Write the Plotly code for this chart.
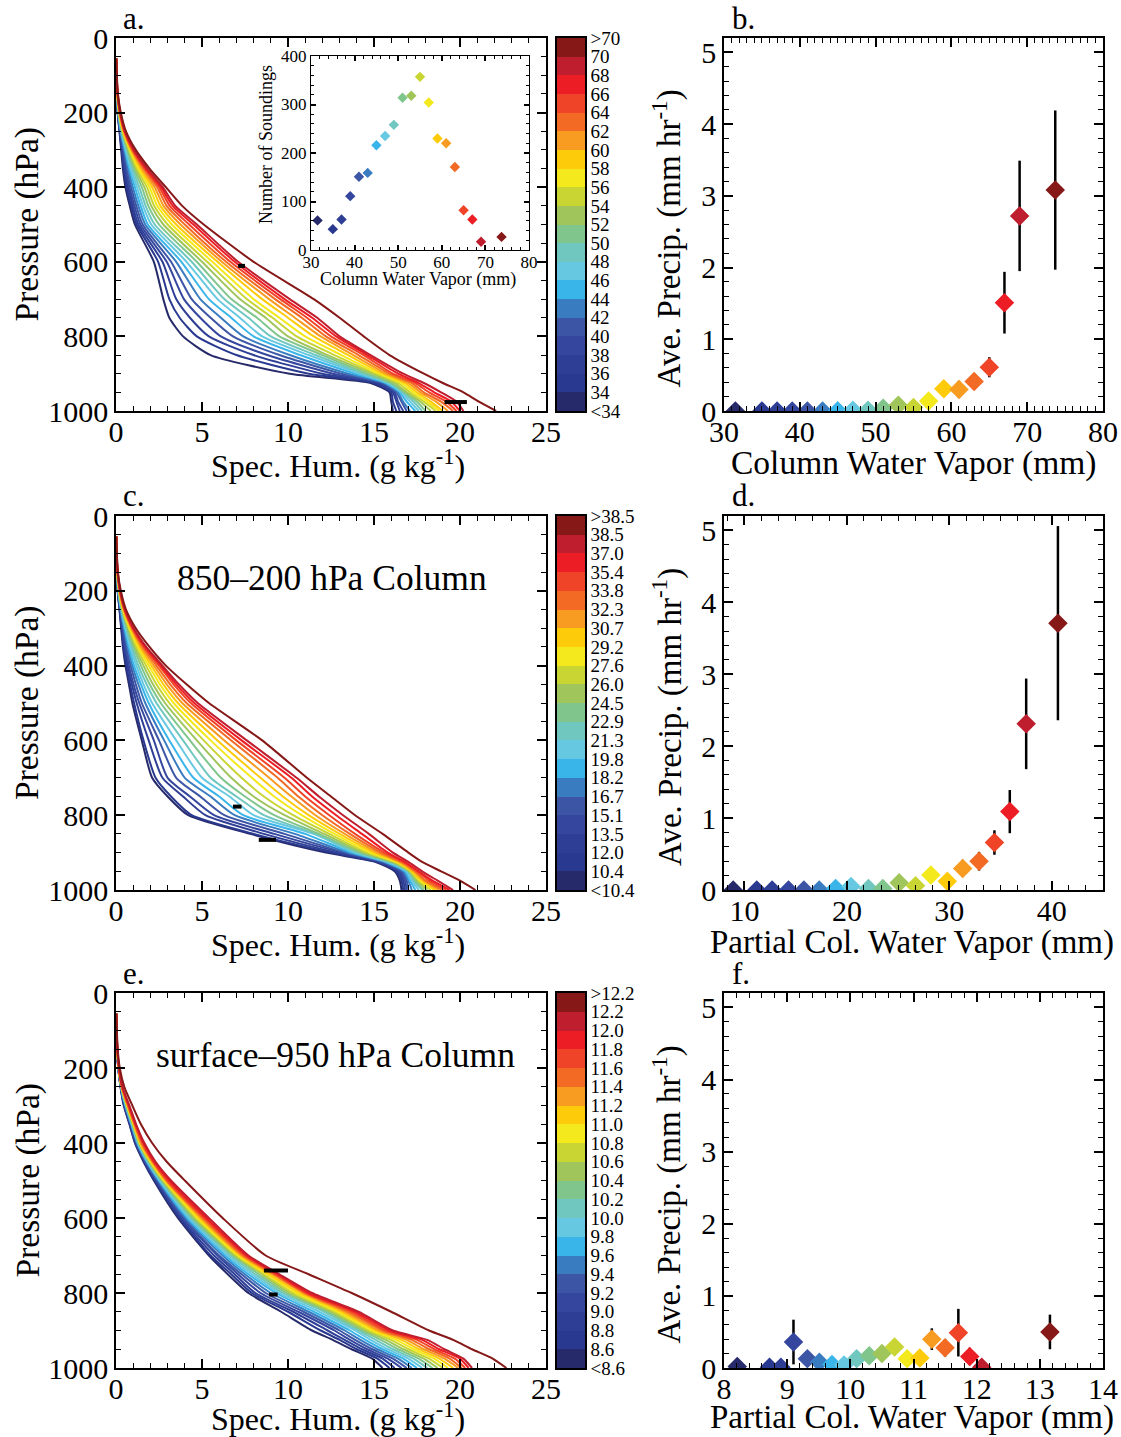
import plotly.graph_objects as go

W, H = 1121, 1437
FONT = "Liberation Serif"

# ---------------- data ----------------
COLORS = ["#272a6a", "#2a3990", "#2e3e95", "#34469e", "#3c55a5", "#3a7cc0",
          "#39b5ea", "#67c8e2", "#6fc7bf", "#80c68c", "#a0c55b", "#c8d533",
          "#f4e91c", "#fecb0b", "#f89b21", "#f26a24", "#ef4427", "#ed1d25",
          "#be1e2d", "#861818"]

CB_A = ["<34", "34", "36", "38", "40", "42", "44", "46", "48", "50", "52", "54",
        "56", "58", "60", "62", "64", "66", "68", "70", ">70"]
CB_C = ["<10.4", "10.4", "12.0", "13.5", "15.1", "16.7", "18.2", "19.8", "21.3",
        "22.9", "24.5", "26.0", "27.6", "29.2", "30.7", "32.3", "33.8", "35.4",
        "37.0", "38.5", ">38.5"]
CB_E = ["<8.6", "8.6", "8.8", "9.0", "9.2", "9.4", "9.6", "9.8", "10.0", "10.2",
        "10.4", "10.6", "10.8", "11.0", "11.2", "11.4", "11.6", "11.8", "12.0",
        "12.2", ">12.2"]

LEVELS = [55, 100, 150, 200, 250, 300, 350, 400, 450, 500, 600, 700, 750, 800,
          850, 900, 925, 950, 975, 1000]

# specific humidity (g/kg) per level (rows) for each bin (columns, dry -> wet)
Q_A = [
    [0.02, 0.02, 0.02, 0.02, 0.02, 0.02, 0.02, 0.02, 0.02, 0.02, 0.02, 0.02, 0.02, 0.02, 0.02, 0.02, 0.02, 0.02, 0.02, 0.02],
    [0.03, 0.03, 0.03, 0.03, 0.03, 0.03, 0.03, 0.03, 0.03, 0.03, 0.04, 0.04, 0.04, 0.04, 0.04, 0.04, 0.04, 0.04, 0.04, 0.05],
    [0.05, 0.05, 0.05, 0.05, 0.05, 0.06, 0.06, 0.06, 0.06, 0.07, 0.07, 0.07, 0.08, 0.08, 0.08, 0.09, 0.09, 0.09, 0.10, 0.11],
    [0.10, 0.10, 0.10, 0.11, 0.12, 0.12, 0.13, 0.14, 0.15, 0.16, 0.17, 0.18, 0.19, 0.20, 0.21, 0.22, 0.23, 0.24, 0.25, 0.28],
    [0.20, 0.21, 0.22, 0.23, 0.25, 0.27, 0.29, 0.31, 0.33, 0.35, 0.37, 0.39, 0.41, 0.43, 0.45, 0.47, 0.49, 0.51, 0.53, 0.58],
    [0.30, 0.33, 0.36, 0.40, 0.44, 0.48, 0.52, 0.57, 0.62, 0.67, 0.72, 0.77, 0.82, 0.86, 0.90, 0.94, 0.98, 1.02, 1.05, 1.15],
    [0.40, 0.45, 0.50, 0.55, 0.62, 0.70, 0.78, 0.86, 0.95, 1.04, 1.13, 1.22, 1.31, 1.40, 1.50, 1.60, 1.68, 1.75, 1.82, 1.95],
    [0.55, 0.62, 0.70, 0.78, 0.88, 0.98, 1.10, 1.22, 1.35, 1.50, 1.65, 1.80, 1.95, 2.10, 2.25, 2.40, 2.52, 2.62, 2.72, 2.90],
    [0.80, 0.88, 0.97, 1.07, 1.18, 1.30, 1.43, 1.57, 1.72, 1.88, 2.05, 2.22, 2.40, 2.58, 2.76, 2.94, 3.12, 3.30, 3.45, 3.85],
    [1.10, 1.20, 1.30, 1.42, 1.55, 1.70, 1.85, 2.05, 2.25, 2.50, 2.75, 3.00, 3.25, 3.50, 3.75, 4.00, 4.25, 4.50, 4.70, 5.10],
    [2.20, 2.45, 2.70, 2.95, 3.20, 3.50, 3.80, 4.10, 4.40, 4.70, 5.00, 5.30, 5.60, 5.90, 6.15, 6.40, 6.65, 6.90, 7.10, 8.00],
    [2.75, 3.10, 3.50, 3.95, 4.40, 4.90, 5.40, 5.90, 6.30, 6.70, 7.20, 7.60, 8.00, 8.50, 8.90, 9.25, 9.55, 9.80, 10.1, 11.5],
    [3.10, 3.70, 4.30, 4.90, 5.50, 6.10, 6.70, 7.20, 7.70, 8.20, 8.70, 9.10, 9.50, 10.0, 10.4, 10.8, 11.1, 11.4, 11.7, 13.0],
    [3.90, 4.70, 5.40, 6.10, 6.80, 7.40, 8.00, 8.50, 9.00, 9.50, 10.0, 10.5, 11.0, 11.5, 11.9, 12.2, 12.5, 12.8, 13.0, 14.4],
    [5.50, 7.00, 8.00, 8.80, 9.50, 10.1, 10.7, 11.2, 11.6, 12.0, 12.3, 12.7, 13.1, 13.5, 13.8, 14.1, 14.4, 14.6, 14.8, 15.9],
    [10.1, 11.2, 12.0, 12.6, 13.1, 13.5, 13.9, 14.2, 14.4, 14.6, 14.9, 15.1, 15.3, 15.5, 15.7, 15.9, 16.1, 16.4, 16.7, 17.9],
    [14.8, 15.0, 15.2, 15.4, 15.5, 15.6, 15.7, 15.8, 15.9, 16.0, 16.2, 16.4, 16.6, 16.8, 17.0, 17.2, 17.4, 17.6, 17.9, 19.0],
    [15.9, 16.0, 16.1, 16.2, 16.3, 16.4, 16.5, 16.6, 16.7, 16.8, 16.9, 17.1, 17.3, 17.5, 17.7, 17.9, 18.2, 18.5, 18.9, 20.2],
    [16.0, 16.1, 16.3, 16.4, 16.6, 16.7, 16.9, 17.1, 17.3, 17.5, 17.7, 17.9, 18.1, 18.3, 18.6, 18.9, 19.2, 19.5, 19.8, 21.1],
    [16.1, 16.3, 16.5, 16.7, 16.9, 17.1, 17.4, 17.6, 17.8, 18.0, 18.3, 18.6, 18.8, 19.0, 19.3, 19.6, 19.8, 20.0, 20.2, 22.1],
]

Q_C = [
    [0.02, 0.02, 0.02, 0.02, 0.02, 0.02, 0.02, 0.02, 0.02, 0.02, 0.02, 0.02, 0.02, 0.02, 0.02, 0.02, 0.02, 0.02, 0.02, 0.02],
    [0.03, 0.03, 0.03, 0.03, 0.03, 0.03, 0.03, 0.03, 0.03, 0.03, 0.04, 0.04, 0.04, 0.04, 0.04, 0.04, 0.04, 0.04, 0.04, 0.05],
    [0.05, 0.05, 0.05, 0.05, 0.05, 0.06, 0.06, 0.06, 0.06, 0.07, 0.07, 0.07, 0.08, 0.08, 0.08, 0.09, 0.09, 0.09, 0.10, 0.11],
    [0.10, 0.10, 0.10, 0.11, 0.12, 0.12, 0.13, 0.14, 0.15, 0.16, 0.17, 0.18, 0.19, 0.20, 0.21, 0.22, 0.23, 0.24, 0.25, 0.28],
    [0.20, 0.21, 0.22, 0.23, 0.25, 0.27, 0.29, 0.31, 0.33, 0.35, 0.37, 0.39, 0.41, 0.43, 0.45, 0.47, 0.49, 0.51, 0.53, 0.58],
    [0.30, 0.32, 0.35, 0.38, 0.42, 0.46, 0.50, 0.55, 0.60, 0.65, 0.70, 0.75, 0.80, 0.85, 0.89, 0.93, 0.97, 1.00, 1.03, 1.15],
    [0.40, 0.44, 0.48, 0.53, 0.60, 0.67, 0.75, 0.83, 0.92, 1.01, 1.10, 1.19, 1.28, 1.37, 1.46, 1.55, 1.63, 1.70, 1.76, 1.95],
    [0.55, 0.60, 0.68, 0.75, 0.85, 0.95, 1.05, 1.18, 1.30, 1.45, 1.60, 1.75, 1.90, 2.05, 2.20, 2.35, 2.50, 2.60, 2.70, 2.90],
    [0.75, 0.82, 0.92, 1.02, 1.15, 1.30, 1.45, 1.60, 1.78, 1.96, 2.15, 2.35, 2.55, 2.75, 2.95, 3.15, 3.35, 3.50, 3.65, 4.10],
    [0.95, 1.05, 1.20, 1.35, 1.50, 1.70, 1.90, 2.10, 2.35, 2.60, 2.85, 3.10, 3.35, 3.60, 3.85, 4.10, 4.35, 4.55, 4.75, 5.40],
    [1.50, 1.60, 1.90, 2.20, 2.50, 2.80, 3.10, 3.50, 3.90, 4.30, 4.70, 5.10, 5.50, 5.90, 6.30, 6.70, 7.00, 7.30, 7.60, 8.50],
    [2.10, 2.30, 2.70, 3.00, 3.50, 4.00, 4.50, 5.00, 5.50, 6.10, 6.70, 7.30, 7.90, 8.40, 8.90, 9.40, 9.80, 10.2, 10.5, 11.1],
    [3.00, 3.20, 3.90, 4.30, 4.90, 5.50, 6.00, 6.60, 7.00, 7.50, 8.00, 8.60, 9.20, 9.70, 10.2, 10.6, 11.0, 11.4, 11.8, 12.5],
    [4.20, 4.40, 5.20, 5.70, 6.30, 6.90, 7.40, 8.00, 8.60, 9.20, 9.80, 10.3, 10.8, 11.2, 11.6, 12.0, 12.4, 12.8, 13.2, 13.9],
    [7.80, 8.00, 8.60, 9.20, 9.80, 10.4, 11.0, 11.5, 11.6, 11.8, 12.1, 12.4, 12.7, 13.0, 13.3, 13.6, 13.9, 14.3, 14.7, 15.5],
    [12.2, 12.5, 12.8, 13.1, 13.3, 13.5, 13.7, 13.9, 14.0, 14.2, 14.4, 14.6, 14.8, 15.0, 15.2, 15.4, 15.6, 15.8, 16.1, 17.0],
    [15.1, 15.2, 15.3, 15.4, 15.5, 15.6, 15.7, 15.8, 15.9, 16.0, 16.1, 16.2, 16.3, 16.4, 16.5, 16.6, 16.7, 16.8, 17.0, 17.8],
    [16.2, 16.3, 16.4, 16.5, 16.6, 16.7, 16.8, 16.9, 17.0, 17.0, 17.1, 17.1, 17.2, 17.2, 17.3, 17.4, 17.5, 17.6, 17.8, 18.9],
    [16.5, 16.6, 16.7, 16.8, 16.9, 17.0, 17.1, 17.2, 17.3, 17.4, 17.5, 17.6, 17.7, 17.8, 17.9, 18.0, 18.2, 18.4, 18.7, 20.0],
    [16.6, 16.7, 16.8, 16.9, 17.0, 17.2, 17.4, 17.6, 17.8, 17.9, 18.1, 18.3, 18.5, 18.6, 18.8, 19.0, 19.2, 19.4, 19.6, 20.9],
]

Q_E = [
    [0.02, 0.02, 0.02, 0.02, 0.02, 0.02, 0.02, 0.02, 0.02, 0.02, 0.02, 0.02, 0.02, 0.02, 0.02, 0.02, 0.02, 0.02, 0.02, 0.02],
    [0.03, 0.03, 0.03, 0.03, 0.03, 0.03, 0.03, 0.03, 0.03, 0.03, 0.04, 0.04, 0.04, 0.04, 0.04, 0.04, 0.04, 0.04, 0.04, 0.05],
    [0.06, 0.06, 0.06, 0.06, 0.06, 0.06, 0.06, 0.06, 0.07, 0.07, 0.07, 0.07, 0.07, 0.07, 0.07, 0.07, 0.08, 0.08, 0.08, 0.10],
    [0.13, 0.13, 0.13, 0.14, 0.14, 0.14, 0.14, 0.15, 0.15, 0.15, 0.15, 0.16, 0.16, 0.16, 0.16, 0.17, 0.17, 0.18, 0.18, 0.22],
    [0.26, 0.27, 0.27, 0.28, 0.28, 0.29, 0.29, 0.30, 0.30, 0.31, 0.31, 0.32, 0.32, 0.33, 0.33, 0.34, 0.35, 0.36, 0.37, 0.48],
    [0.45, 0.47, 0.48, 0.50, 0.52, 0.53, 0.55, 0.57, 0.58, 0.60, 0.62, 0.63, 0.65, 0.67, 0.68, 0.70, 0.72, 0.75, 0.78, 0.95],
    [0.78, 0.80, 0.82, 0.84, 0.86, 0.88, 0.90, 0.92, 0.94, 0.96, 0.98, 1.00, 1.02, 1.04, 1.06, 1.08, 1.11, 1.14, 1.17, 1.45],
    [1.10, 1.12, 1.15, 1.18, 1.20, 1.22, 1.25, 1.28, 1.30, 1.32, 1.35, 1.38, 1.40, 1.42, 1.45, 1.50, 1.55, 1.60, 1.65, 2.10],
    [1.60, 1.63, 1.66, 1.70, 1.74, 1.77, 1.80, 1.84, 1.88, 1.91, 1.95, 1.98, 2.02, 2.06, 2.10, 2.14, 2.18, 2.23, 2.30, 2.95],
    [2.20, 2.25, 2.30, 2.35, 2.40, 2.45, 2.50, 2.55, 2.60, 2.65, 2.70, 2.75, 2.80, 2.85, 2.90, 2.95, 3.00, 3.10, 3.20, 4.00],
    [3.60, 3.70, 3.75, 3.85, 3.95, 4.05, 4.15, 4.25, 4.35, 4.45, 4.55, 4.65, 4.75, 4.85, 4.95, 5.05, 5.15, 5.25, 5.40, 6.20],
    [5.40, 5.50, 5.70, 5.90, 6.00, 6.20, 6.35, 6.50, 6.65, 6.80, 6.90, 7.00, 7.10, 7.20, 7.30, 7.40, 7.50, 7.60, 7.70, 8.70],
    [6.50, 6.70, 6.90, 7.10, 7.30, 7.50, 7.70, 7.90, 8.10, 8.30, 8.50, 8.60, 8.80, 8.90, 9.10, 9.20, 9.30, 9.40, 9.50, 11.2],
    [7.70, 7.90, 8.10, 8.40, 8.70, 9.00, 9.30, 9.50, 9.70, 9.90, 10.1, 10.3, 10.5, 10.7, 10.9, 11.0, 11.1, 11.2, 11.4, 13.7],
    [9.60, 10.0, 10.3, 10.6, 10.9, 11.2, 11.5, 11.8, 12.1, 12.3, 12.5, 12.7, 12.9, 13.1, 13.3, 13.5, 13.7, 13.9, 14.1, 16.0],
    [11.4, 11.9, 12.3, 12.7, 13.0, 13.3, 13.6, 13.9, 14.1, 14.3, 14.5, 14.7, 14.9, 15.1, 15.3, 15.5, 15.7, 15.9, 16.1, 18.2],
    [12.6, 13.0, 13.3, 13.6, 13.9, 14.2, 14.5, 14.8, 15.1, 15.4, 15.7, 16.0, 16.3, 16.6, 16.9, 17.2, 17.5, 17.8, 18.1, 19.6],
    [13.7, 14.0, 14.3, 14.6, 14.9, 15.2, 15.5, 15.8, 16.1, 16.4, 16.7, 17.0, 17.3, 17.6, 17.9, 18.2, 18.5, 18.8, 19.1, 20.7],
    [14.9, 15.2, 15.5, 15.8, 16.1, 16.4, 16.7, 17.0, 17.3, 17.6, 17.9, 18.2, 18.5, 18.8, 19.1, 19.4, 19.7, 20.0, 20.2, 21.9],
    [15.5, 15.9, 16.2, 16.6, 16.9, 17.2, 17.5, 17.8, 18.1, 18.4, 18.7, 19.0, 19.3, 19.6, 19.9, 20.1, 20.3, 20.5, 20.7, 22.7],
]

# black bar segments (q_start, q_end, p_start, p_end)
BARS_A = [(7.1, 7.5, 611, 611), (19.1, 20.4, 976, 976), (20.0, 20.0, 976, 1000)]
BARS_C = [(6.8, 7.3, 777, 777), (8.3, 9.3, 866, 866)]
BARS_E = [(8.6, 10.0, 740, 740), (8.9, 9.4, 804, 804)]

# panel b: column water vapor bins
CWV_X = [31.5, 35, 37, 39, 41, 43, 45, 47, 49, 51, 53, 55, 57, 59, 61, 63, 65, 67, 69, 73.7]
CWV_P = [0, 0, 0, 0, 0, 0, 0.005, 0.01, 0.01, 0.04, 0.08, 0.05, 0.14, 0.31, 0.30, 0.41, 0.61, 1.51, 2.72, 3.08]
CWV_E = [0, 0, 0, 0, 0, 0, 0, 0, 0, 0, 0, 0, 0, 0.11, 0.12, 0.11, 0.14, 0.43, 0.77, 1.11]
CWV_N = [61, 43, 63, 111, 151, 159, 216, 235, 258, 314, 318, 357, 304, 230, 220, 171, 82, 63, 17, 27]

# panel d: 850-200 hPa partial column
MID_X = [8.9, 11.2, 12.7, 14.3, 15.8, 17.3, 18.9, 20.4, 22.1, 23.5, 25.1, 26.7, 28.2, 29.8, 31.3, 32.9, 34.4, 35.9, 37.5, 40.6]
MID_P = [0, 0, 0, 0, 0, 0, 0.02, 0.05, 0.02, 0.02, 0.10, 0.06, 0.21, 0.12, 0.30, 0.40, 0.66, 1.09, 2.31, 3.71]
MID_E = [0, 0, 0, 0, 0, 0, 0, 0, 0, 0, 0, 0, 0, 0, 0.12, 0.13, 0.17, 0.30, 0.63, 1.35]

# panel f: surface-950 hPa partial column
LOW_X = [8.21, 8.72, 8.90, 9.10, 9.32, 9.51, 9.71, 9.90, 10.10, 10.30, 10.50, 10.70, 10.90, 11.10, 11.29, 11.50, 11.71, 11.89, 12.08, 13.16]
LOW_P = [0.02, 0.01, 0.01, 0.36, 0.13, 0.08, 0.05, 0.04, 0.13, 0.17, 0.20, 0.29, 0.13, 0.14, 0.40, 0.28, 0.49, 0.16, 0.01, 0.50]
LOW_E = [0, 0, 0, 0.31, 0, 0, 0, 0, 0, 0, 0, 0.09, 0, 0, 0.15, 0.12, 0.33, 0.12, 0, 0.24]


# ---------------- helpers ----------------
def px(x):
    return x / W


def py(y):
    return 1 - y / H


def axis(domain, rng, dtick, minor_dtick, anchor, size=30, tlen=9, mlen=5, lw=1.5,
         standoff=0):
    return dict(domain=domain, range=rng, dtick=dtick, tick0=0, anchor=anchor,
                automargin=False, ticklabelstandoff=standoff,
                ticks="inside", ticklen=tlen, tickwidth=1.5, tickcolor="black",
                mirror="allticks", showline=True, linecolor="black", linewidth=lw,
                showgrid=False, zeroline=False,
                tickfont=dict(family=FONT, size=size, color="black"),
                minor=dict(dtick=minor_dtick, ticks="inside", ticklen=mlen,
                           tickwidth=1, tickcolor="black", showgrid=False))


fig = go.Figure()
layout = {}

XL = [px(116), px(546)]
XR = [px(724), px(1103)]
XCB = [px(557), px(585)]
ROWS = [(38, 411), (516, 890), (993, 1368)]

profiles = [Q_A, Q_C, Q_E]
bars = [BARS_A, BARS_C, BARS_E]
cblabels = [CB_A, CB_C, CB_E]
scat = [(CWV_X, CWV_P, CWV_E, [30, 80], 10, 1),
        (MID_X, MID_P, MID_E, [8, 45], 10, 10 / 6),
        (LOW_X, LOW_P, LOW_E, [8, 14], 1, 0.2)]

for r in range(3):
    top, bot = ROWS[r]
    yd = [py(bot), py(top)]
    li = 2 * r + 1
    ri = 2 * r + 2
    ci = 7 + r
    ls = "" if li == 1 else str(li)
    rs = str(ri)
    cs = str(ci)

    # profiles
    Q = profiles[r]
    for j in range(20):
        fig.add_trace(go.Scatter(x=[row[j] for row in Q], y=LEVELS, mode="lines",
                                 line=dict(color=COLORS[j], width=2,
                                           shape="spline", smoothing=0.6),
                                 xaxis="x" + ls, yaxis="y" + ls, showlegend=False,
                                 hoverinfo="skip"))
    for (q0, q1, p0, p1) in bars[r]:
        fig.add_trace(go.Scatter(x=[q0, q1], y=[p0, p1], mode="lines",
                                 line=dict(color="black", width=4 if p0 == p1 else 2),
                                 xaxis="x" + ls, yaxis="y" + ls, showlegend=False))
    layout["xaxis" + ls] = axis(XL, [0, 25], 5, 1, "y" + ls, standoff=-7)
    layout["yaxis" + ls] = axis(yd, [1000, 0], 200, 50, "x" + ls)

    # scatter
    sx, sp, se, xr, dt, mn = scat[r]
    fig.add_trace(go.Scatter(x=sx, y=sp, mode="markers",
                             marker=dict(symbol="diamond", size=15, color=COLORS,
                                         line=dict(width=0)),
                             error_y=dict(type="data", array=se, color="black",
                                          thickness=2.5, width=0),
                             xaxis="x" + rs, yaxis="y" + rs, showlegend=False))
    layout["xaxis" + rs] = axis(XR, xr, dt, mn, "y" + rs, standoff=-7)
    layout["yaxis" + rs] = axis(yd, [0, 5.2], 1, 0.2, "x" + rs)

    # colour bar
    fig.add_trace(go.Bar(x=[0] * 20, y=[1] * 20, base=list(range(20)), width=1,
                         marker=dict(color=COLORS, line=dict(width=0)),
                         xaxis="x" + cs, yaxis="y" + cs, showlegend=False,
                         hoverinfo="skip"))
    layout["xaxis" + cs] = dict(domain=XCB, range=[-0.5, 0.5], anchor="y" + cs,
                                automargin=False,
                                showline=True, mirror=True, linecolor="black",
                                linewidth=1.5, ticks="", showticklabels=False,
                                showgrid=False, zeroline=False)
    layout["yaxis" + cs] = dict(domain=yd, range=[0, 20], anchor="x" + cs,
                                automargin=False,
                                side="right", showline=True, mirror=True,
                                linecolor="black", linewidth=1.5, ticks="",
                                tickvals=list(range(21)), ticktext=cblabels[r],
                                tickfont=dict(family=FONT, size=19, color="black"),
                                showgrid=False, zeroline=False)

# inset
fig.add_trace(go.Scatter(x=CWV_X, y=CWV_N, mode="markers",
                         marker=dict(symbol="diamond", size=8, color=COLORS),
                         xaxis="x10", yaxis="y10", showlegend=False))
layout["xaxis10"] = axis([px(311), px(529)], [30, 80], 10, 2, "y10", size=17,
                         tlen=5, mlen=3, lw=1, standoff=-3)
layout["yaxis10"] = axis([py(250), py(56)], [0, 400], 100, 20, "x10", size=17,
                         tlen=5, mlen=3, lw=1)

# annotations
ann = []


def txt(s, x, y, size, angle=0, xanchor="center"):
    ann.append(dict(text=s, x=px(x), y=py(y), xref="paper", yref="paper",
                    showarrow=False, textangle=angle, xanchor=xanchor,
                    yanchor="middle",
                    font=dict(family=FONT, size=size, color="black")))


SPEC_Y = [464, 943, 1417]
for r, (top, bot) in enumerate(ROWS):
    mid = (top + bot) / 2
    txt("Pressure (hPa)", 27, mid, 33.5, -90)
    txt("Spec. Hum. (g kg<sup>-1</sup>)", 338, SPEC_Y[r], 32)
    txt("Ave. Precip. (mm hr<sup>-1</sup>)", 667, mid + 14, 33, -90)
    txt("abcdef"[2 * r] + ".", 121, top - 20, 31, xanchor="left")
    txt("abcdef"[2 * r + 1] + ".", 730, top - 20, 31, xanchor="left")

txt("Column Water Vapor (mm)", 913, 463, 33.5)
txt("Partial Col. Water Vapor (mm)", 912, 942, 33)
txt("Partial Col. Water Vapor (mm)", 912, 1417, 33)
txt("850\u2013200 hPa Column", 332, 578, 35.5)
txt("surface\u2013950 hPa Column", 335, 1055, 35.5)
txt("Column Water Vapor (mm)", 418, 280, 18)
txt("Number of Soundings", 266, 145, 18, -90)

fig.update_layout(**layout)
fig.update_layout(width=W, height=H, margin=dict(l=0, r=0, t=0, b=0, pad=0),
                  template="none",
                  paper_bgcolor="white", plot_bgcolor="white",
                  annotations=ann, bargap=0,
                  font=dict(family=FONT, color="black"))

fig.write_html("out.html")
